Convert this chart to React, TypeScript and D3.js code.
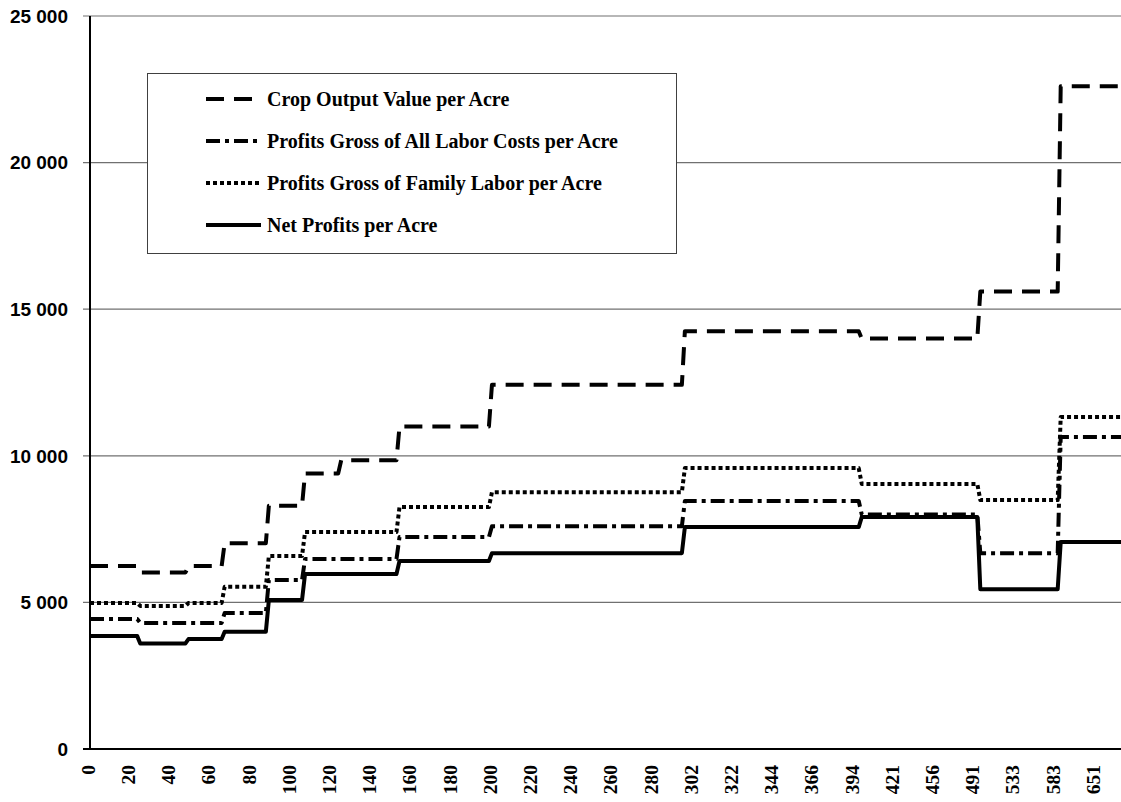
import React, { useEffect, useRef } from 'react';
import * as d3 from 'd3';

// category index where each step of the series begins (one category ~ 2px)
const breaks = [0, 25, 49, 67, 89, 107, 125, 154, 200, 296, 384, 443, 483];
const lastCategory = 513;

const tickLabels = ['0', '20', '40', '60', '80', '100', '120', '140', '160', '180', '200', '220', '240',
  '260', '280', '302', '322', '344', '366', '394', '421', '456', '491', '533', '583', '651'];
const yTicks = [0, 5000, 10000, 15000, 20000, 25000];

const cropOutput = [6240, 6020, 6240, 7020, 8300, 9400, 9850, 11000, 12420, 14250, 14000, 15600, 22600];
const grossAllLabor = [4430, 4300, 4300, 4640, 5760, 6480, 6480, 7230, 7600, 8460, 8000, 6680, 10640];
const grossFamilyLabor = [4980, 4880, 4980, 5530, 6580, 7400, 7400, 8250, 8760, 9580, 9040, 8490, 11320];
const netProfits = [3850, 3600, 3750, 4000, 5080, 5970, 5970, 6410, 6680, 7570, 7910, 5450, 7060];

const seriesNames = [
  'Crop Output Value per Acre',
  'Profits Gross of All Labor Costs per Acre',
  'Profits Gross of Family Labor per Acre',
  'Net Profits per Acre',
];

export default function App() {
  const svgRef = useRef<SVGSVGElement>(null);

  useEffect(() => {
    const svg = d3.select(svgRef.current);
    svg.selectAll('*').remove();

    const margin = { t: 16, r: 0, l: 90, b: 53 };
    const width = 1121;
    const height = 802;

    const x = d3.scaleLinear().domain([0, lastCategory]).range([margin.l, width - margin.r]);
    const y = d3.scaleLinear().domain([0, 25000]).range([height - margin.b, margin.t]);

    // gridlines
    svg.append('g')
      .selectAll('line')
      .data(yTicks.filter(d => d > 0))
      .enter().append('line')
      .attr('x1', margin.l - 7)
      .attr('x2', width)
      .attr('y1', d => y(d))
      .attr('y2', d => y(d))
      .attr('stroke', '#707070')
      .attr('stroke-width', 1.2);

    // y labels
    svg.append('g')
      .selectAll('text')
      .data(yTicks)
      .enter().append('text')
      .attr('x', 68)
      .attr('y', d => y(d))
      .attr('dy', '0.36em')
      .attr('text-anchor', 'end')
      .style('font-family', '"Liberation Sans", Arial, sans-serif')
      .style('font-weight', 'bold')
      .style('font-size', '19px')
      .text(d => d3.format(',')(d).replace(',', ' '));

    // x labels
    svg.append('g')
      .selectAll('text')
      .data(tickLabels)
      .enter().append('text')
      .attr('transform', (d, i) => `translate(${x(i * 20) - 2},765) rotate(-90)`)
      .attr('dy', '0.35em')
      .attr('text-anchor', 'end')
      .style('font-family', '"Liberation Serif", "Times New Roman", serif')
      .style('font-weight', 'bold')
      .style('font-size', '19.5px')
      .text(d => d);

    const styles = [
      { dash: '18,10' },
      { dash: '14,5,4,5' },
      { dash: '4,3' },
      { dash: null },
    ];

    const stepPoints = (vals: number[]) => {
      const pts: [number, number][] = [];
      vals.forEach((v, i) => {
        const start = breaks[i];
        const end = i < breaks.length - 1 ? breaks[i + 1] - 1.5 : lastCategory;
        pts.push([start, v]);
        pts.push([end, v]);
      });
      return pts;
    };

    const line = d3.line<[number, number]>().x(d => x(d[0])).y(d => y(d[1]));

    const allSeries = [cropOutput, grossAllLabor, grossFamilyLabor, netProfits];
    allSeries.forEach((vals, i) => {
      svg.append('path')
        .attr('d', line(stepPoints(vals)))
        .attr('fill', 'none')
        .attr('stroke', '#000')
        .attr('stroke-width', 4)
        .attr('stroke-dasharray', styles[i].dash)
        .attr('stroke-linejoin', 'round');
    });

    // axes
    svg.append('line')
      .attr('x1', x(0)).attr('x2', x(0))
      .attr('y1', y(25000)).attr('y2', y(0))
      .attr('stroke', '#000').attr('stroke-width', 2);
    svg.append('line')
      .attr('x1', margin.l - 7).attr('x2', width)
      .attr('y1', y(0)).attr('y2', y(0))
      .attr('stroke', '#000').attr('stroke-width', 2);

    // legend
    const legend = svg.append('g');
    legend.append('rect')
      .attr('x', 147.5).attr('y', 73.5)
      .attr('width', 529).attr('height', 180)
      .attr('fill', '#fff')
      .attr('stroke', '#404040')
      .attr('stroke-width', 1);

    const rows = legend.selectAll('g.row')
      .data(seriesNames)
      .enter().append('g')
      .attr('class', 'row')
      .attr('transform', (d, i) => `translate(0,${99 + i * 42})`);

    rows.append('line')
      .attr('x1', 206).attr('x2', 261)
      .attr('stroke', '#000')
      .attr('stroke-width', 4)
      .attr('stroke-dasharray', (d, i) => styles[i].dash);

    rows.append('text')
      .attr('x', 267)
      .attr('dy', '0.33em')
      .style('font-family', '"Liberation Serif", "Times New Roman", serif')
      .style('font-weight', 'bold')
      .style('font-size', '20px')
      .text(d => d);
  }, []);

  return (
    <svg
      ref={svgRef}
      width="1121"
      height="802"
      style={{ position: 'absolute', left: 0, top: 0, background: '#fff' }}
    />
  );
}
